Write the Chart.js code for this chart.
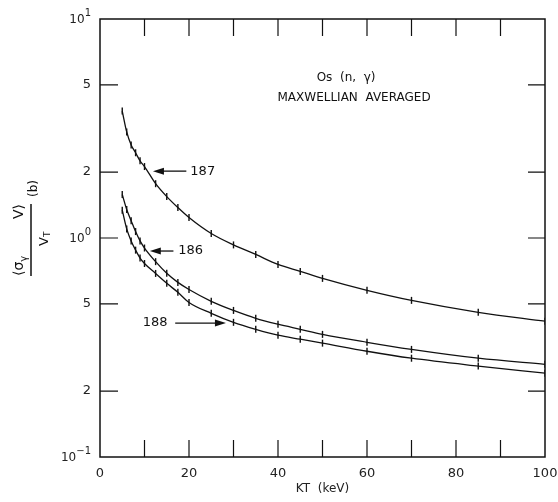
<!DOCTYPE html>
<html><head><meta charset="utf-8">
<script src="https://cdn.jsdelivr.net/npm/chart.js@4"></script>
<style>html,body{margin:0;padding:0;background:#fff}#w{width:558px;height:502px}</style>
</head><body><div id="w"><canvas id="c" width="558" height="502"></canvas></div>
<script>
// ---- data ----
const kT     = [5, 6, 7, 8, 9, 10, 12.5, 15, 17.5, 20, 25, 30, 35, 40, 45, 50, 60, 70, 85, 100];
const os187  = [3.8, 3.05, 2.66, 2.45, 2.25, 2.12, 1.77, 1.545, 1.377, 1.24, 1.048, 0.93, 0.841, 0.757, 0.704, 0.654, 0.577, 0.519, 0.458, 0.417];
const os186  = [1.58, 1.35, 1.2, 1.07, 0.97, 0.9, 0.78, 0.69, 0.627, 0.582, 0.514, 0.467, 0.43, 0.404, 0.383, 0.363, 0.334, 0.31, 0.2825, 0.265];
const os188  = [1.34, 1.1, 0.97, 0.88, 0.81, 0.765, 0.689, 0.621, 0.565, 0.508, 0.453, 0.412, 0.383, 0.36, 0.345, 0.331, 0.304, 0.2825, 0.26, 0.2414];
const yTickValues = [0.1, 0.2, 0.5, 1, 2, 5, 10];
const yTickBase   = ['10', '2', '5', '10', '2', '5', '10'];
const yTickExp    = ['\u22121', '', '', '0', '', '', '1'];
const xTickValues = [0, 20, 40, 60, 80, 100];
const xMarkValues = [10, 20, 30, 40, 50, 60, 70, 80, 90];
const yMarkValues = [0.2, 0.5, 1, 2, 5];
// curve labels (data coordinates)
const curveNames = ['187', '186', '188'];
const nameX      = [20.3, 17.6, 12.4];
const nameY      = [2.02, 0.872, 0.409];
const arrowFromX = [19.4, 16.5, 16.9];
const arrowToX   = [11.9, 11.2, 28.3];
const titleLines = ['Os  (n,  \u03B3)', 'MAXWELLIAN  AVERAGED'];
const titleX     = [55.3, 57.1];
const titleY     = [5.38, 4.35];

const FONT = '"DejaVu Sans", sans-serif';
const INK = '#111';

const framePlugin = {
  id: 'frame',
  afterDatasetsDraw(chart) {
    const {ctx, chartArea: a, scales: {x, y}} = chart;
    ctx.save();
    ctx.strokeStyle = INK; ctx.lineWidth = 1.5;
    ctx.strokeRect(a.left, a.top, a.right - a.left, a.bottom - a.top);
    ctx.lineWidth = 1.2;
    ctx.beginPath();
    xMarkValues.forEach(v => {
      const px = x.getPixelForValue(v);
      ctx.moveTo(px, a.bottom); ctx.lineTo(px, a.bottom - 17);
      ctx.moveTo(px, a.top); ctx.lineTo(px, a.top + 17);
    });
    yMarkValues.forEach(v => {
      const py = y.getPixelForValue(v);
      ctx.moveTo(a.left, py); ctx.lineTo(a.left + 18, py);
      ctx.moveTo(a.right, py); ctx.lineTo(a.right - 17, py);
    });
    ctx.stroke();

    // y tick labels (with superscript exponents)
    ctx.fillStyle = '#222';
    ctx.textBaseline = 'middle';
    yTickValues.forEach((v, i) => {
      const py = y.getPixelForValue(v);
      const right = a.left - 9;
      if (yTickExp[i]) {
        ctx.font = '10px ' + FONT;
        const ew = ctx.measureText(yTickExp[i]).width;
        ctx.textAlign = 'left';
        ctx.fillText(yTickExp[i], right - ew, py - 6);
        ctx.font = '12px ' + FONT;
        ctx.textAlign = 'right';
        ctx.fillText(yTickBase[i], right - ew, py + 1);
      } else {
        ctx.font = '13px ' + FONT;
        ctx.textAlign = 'right';
        ctx.fillText(yTickBase[i], right, py);
      }
    });

    // annotations
    ctx.fillStyle = INK;
    ctx.font = '13px ' + FONT;
    ctx.textBaseline = 'middle';
    curveNames.forEach((t, i) => {
      const py = y.getPixelForValue(nameY[i]);
      const tx = x.getPixelForValue(nameX[i]);
      ctx.textAlign = i === 2 ? 'center' : 'left';
      ctx.fillText(t, tx, py);
      const x0 = x.getPixelForValue(arrowFromX[i]);
      const x1 = x.getPixelForValue(arrowToX[i]);
      const dir = Math.sign(x1 - x0);
      ctx.lineWidth = 1.3;
      ctx.beginPath(); ctx.moveTo(x0, py); ctx.lineTo(x1 - dir * 6, py); ctx.stroke();
      ctx.beginPath();
      ctx.moveTo(x1, py); ctx.lineTo(x1 - dir * 11, py - 3.5); ctx.lineTo(x1 - dir * 11, py + 3.5);
      ctx.closePath(); ctx.fill();
    });
    ctx.font = '12px ' + FONT;
    ctx.textAlign = 'center';
    titleLines.forEach((t, i) => {
      ctx.fillText(t, x.getPixelForValue(titleX[i]), y.getPixelForValue(titleY[i]));
    });

    // y-axis title: <sigma_gamma V> / V_T  (b)
    ctx.translate(31, 240);
    ctx.rotate(-Math.PI / 2);
    ctx.textBaseline = 'alphabetic';
    ctx.textAlign = 'left';
    ctx.lineWidth = 1.5;
    ctx.beginPath(); ctx.moveTo(-36, 0); ctx.lineTo(36, 0); ctx.stroke();
    ctx.font = '14px ' + FONT;
    let cx = -36;
    ctx.fillText('\u27E8\u03C3', cx, -8); cx += ctx.measureText('\u27E8\u03C3').width;
    ctx.font = '10px ' + FONT;
    ctx.fillText('\u03B3', cx, -4); cx += ctx.measureText('\u03B3').width;
    ctx.font = '14px ' + FONT;
    const num2 = 'V\u27E9';
    ctx.fillText(num2, 36 - ctx.measureText(num2).width, -8);
    ctx.font = '13px ' + FONT;
    const vw = ctx.measureText('V').width;
    ctx.fillText('V', -6, 17);
    ctx.font = '9px ' + FONT;
    ctx.fillText('T', -6 + vw, 19);
    ctx.font = '12px ' + FONT;
    ctx.fillText('(b)', 43, 6);
    ctx.restore();
  }
};

const ds = (data) => ({
  data: kT.map((k, i) => ({x: k, y: data[i]})),
  borderColor: INK, borderWidth: 1.3, backgroundColor: INK,
  cubicInterpolationMode: 'monotone',
  pointStyle: 'line', pointRotation: 90, pointRadius: 3.5,
  pointBorderWidth: 1.4, pointBorderColor: INK,
  fill: false
});

new Chart(document.getElementById('c'), {
  type: 'line',
  data: {datasets: [ds(os187), ds(os186), ds(os188)]},
  options: {
    responsive: false, animation: false, devicePixelRatio: 1,
    layout: {padding: {top: 19, right: 13, left: 0, bottom: 0}},
    plugins: {legend: {display: false}, tooltip: {enabled: false}},
    scales: {
      x: {
        type: 'linear', min: 0, max: 100,
        afterBuildTicks: s => { s.ticks = xTickValues.map(v => ({value: v})); },
        afterFit: s => { s.height = 45; s.paddingLeft = 0; s.paddingRight = 0; },
        grid: {display: false, drawTicks: false},
        border: {display: false},
        ticks: {padding: 9, color: '#222', font: {family: FONT, size: 13}, maxRotation: 0},
        title: {display: true, text: 'KT  (keV)', color: '#222', font: {family: FONT, size: 12}, padding: {top: 0, bottom: 6}}
      },
      y: {
        type: 'logarithmic', min: 0.1, max: 10,
        afterBuildTicks: s => { s.ticks = yTickValues.map(v => ({value: v})); },
        afterFit: s => { s.width = 100; s.paddingTop = 0; s.paddingBottom = 0; },
        grid: {display: false, drawTicks: false},
        border: {display: false},
        ticks: {display: false}
      }
    }
  },
  plugins: [framePlugin]
});
</script>
</body></html>
